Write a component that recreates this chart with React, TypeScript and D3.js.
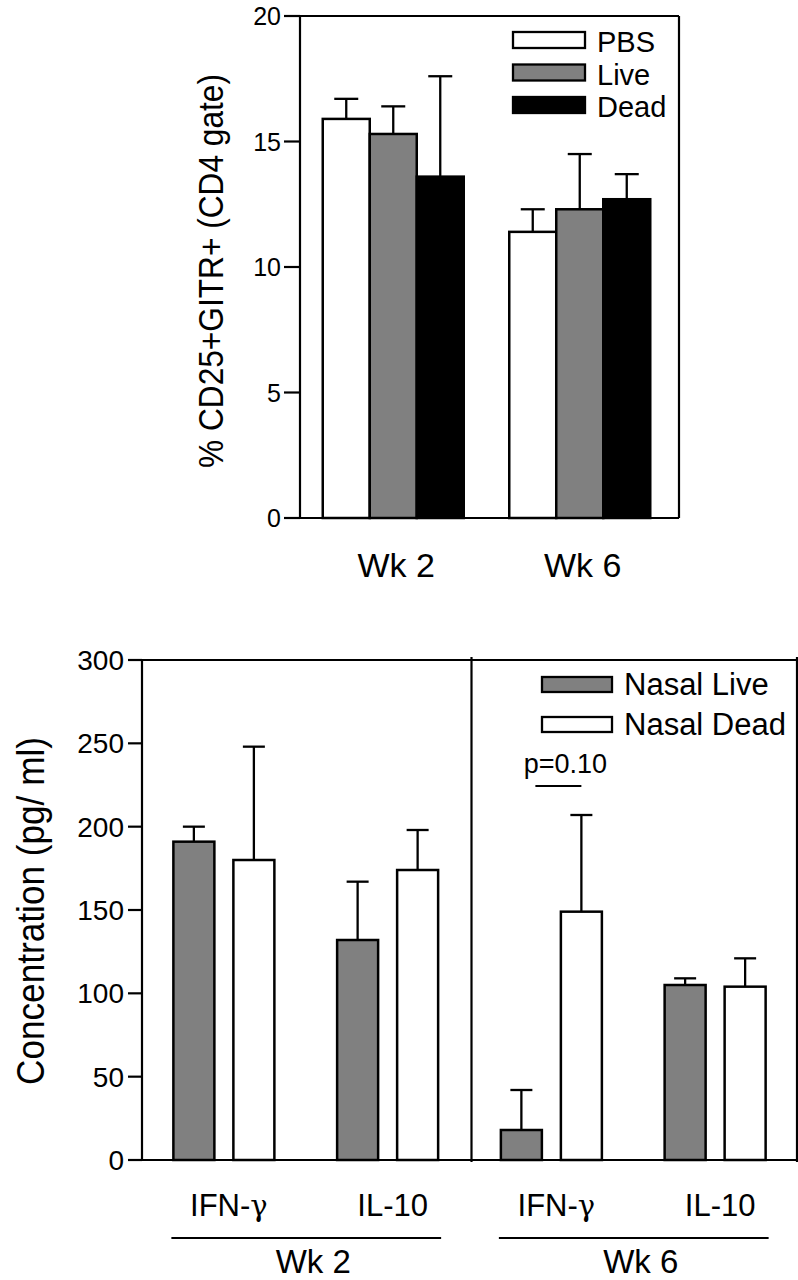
import React from 'react';
import * as d3 from 'd3';

// top panel: % CD25+GITR+ (CD4 gate)
const weeks = ['Wk 2', 'Wk 6'];
const groupsTop = ['PBS', 'Live', 'Dead'];
const topMeans = [
  [15.9, 15.3, 13.6],
  [11.4, 12.3, 12.7],
];
const topErrTops = [
  [16.7, 16.4, 17.6],
  [12.3, 14.5, 13.7],
];
const topTicks = [0, 5, 10, 15, 20];

// bottom panel: cytokines
const cytoCats = ['IFN-γ', 'IL-10', 'IFN-γ ', 'IL-10 '];
const cytoWeek = ['Wk 2', 'Wk 2', 'Wk 6', 'Wk 6'];
const nasalGroups = ['Nasal Live', 'Nasal Dead'];
const liveMeans = [191, 132, 18, 105];
const liveErrTops = [200, 167, 42, 109];
const deadMeans = [180, 174, 149, 104];
const deadErrTops = [248, 198, 207, 121];
const bottomTicks = [0, 50, 100, 150, 200, 250, 300];

const fillTop: Record<string, string> = { PBS: '#fff', Live: '#808080', Dead: '#000' };
const fillBottom: Record<string, string> = { 'Nasal Live': '#808080', 'Nasal Dead': '#fff' };
const FONT = 'Liberation Sans, Arial, Helvetica, sans-serif';

const App = () => {
  // ---- top ----
  const tx0 = 300, tx1 = 679;
  const yTop = d3.scaleLinear().domain([0, 20]).range([518, 16]);
  const xTop = d3.scaleBand().domain(weeks).range([tx0, tx1 - 6]);
  const bwTop = 47;

  // ---- bottom ----
  const bx0 = 142, bx1 = 797;
  const yBot = d3.scaleLinear().domain([0, 300]).range([1160, 660]);
  const xBot = d3.scaleBand().domain(cytoCats).range([bx0, bx1]);
  const bwBot = 41;
  const sub = d3.scalePoint().domain(nasalGroups).range([-30, 30]);
  const botVals = [
    { g: 'Nasal Live', m: liveMeans, e: liveErrTops },
    { g: 'Nasal Dead', m: deadMeans, e: deadErrTops },
  ];
  const bc = (c: string) => (xBot(c) as number) + xBot.bandwidth() / 2;
  const weekGroups = d3.groups(cytoCats.map((c, i) => ({ c, w: cytoWeek[i] })), d => d.w);

  return (
    <svg width={798} height={1280} style={{ position: 'absolute', left: 0, top: 0 }} fontFamily={FONT}>
      <rect width={798} height={1280} fill="#fff" />

      {/* top bars */}
      {weeks.map((w, wi) => {
        const cx = (xTop(w) as number) + xTop.bandwidth() / 2;
        return groupsTop.map((g, gi) => {
          const x = cx + (gi - 1.5) * bwTop;
          const mx = x + bwTop / 2;
          return (
            <g key={w + g}>
              <line x1={mx} x2={mx} y1={yTop(topMeans[wi][gi])} y2={yTop(topErrTops[wi][gi])} stroke="#000" strokeWidth={2.3} />
              <line x1={mx - 12} x2={mx + 12} y1={yTop(topErrTops[wi][gi])} y2={yTop(topErrTops[wi][gi])} stroke="#000" strokeWidth={2.3} />
              <rect x={x} y={yTop(topMeans[wi][gi])} width={bwTop} height={yTop(0) - yTop(topMeans[wi][gi])}
                fill={fillTop[g]} stroke="#000" strokeWidth={2.5} />
            </g>
          );
        });
      })}

      {/* top frame + axis */}
      <g stroke="#000" strokeWidth={2.2} fill="none">
        <line x1={tx0} x2={tx0} y1={yTop(20)} y2={yTop(0)} />
        <line x1={tx0} x2={tx1} y1={yTop(0)} y2={yTop(0)} />
        <line x1={tx0} x2={tx1} y1={yTop(20)} y2={yTop(20)} />
        <line x1={tx1} x2={tx1} y1={yTop(20)} y2={yTop(0)} />
        {topTicks.map(t => <line key={t} x1={tx0 - 16} x2={tx0} y1={yTop(t)} y2={yTop(t)} />)}
      </g>
      {topTicks.map(t => (
        <text key={t} x={tx0 - 19} y={yTop(t)} dy="0.36em" textAnchor="end" fontSize={25}>{t}</text>
      ))}
      {weeks.map(w => (
        <text key={w} x={(xTop(w) as number) + xTop.bandwidth() / 2 + 3} y={577} textAnchor="middle" fontSize={34}>{w}</text>
      ))}
      <text transform="translate(223,271) rotate(-90)" textAnchor="middle" fontSize={35}
        textLength={394} lengthAdjust="spacingAndGlyphs">% CD25+GITR+ (CD4 gate)</text>

      {/* top legend */}
      {groupsTop.map((g, i) => (
        <g key={g} transform={`translate(513,${32 + i * 32.5})`}>
          <rect width={72} height={16} fill={fillTop[g]} stroke="#000" strokeWidth={2.3} />
          <text x={84} y={20} fontSize={29}>{g}</text>
        </g>
      ))}

      {/* bottom bars */}
      {cytoCats.map((c, ci) => botVals.map(s => {
        const mx = bc(c) + (sub(s.g) as number);
        const x = mx - bwBot / 2;
        return (
          <g key={c + s.g}>
            <line x1={mx} x2={mx} y1={yBot(s.m[ci])} y2={yBot(s.e[ci])} stroke="#000" strokeWidth={2.3} />
            <line x1={mx - 11} x2={mx + 11} y1={yBot(s.e[ci])} y2={yBot(s.e[ci])} stroke="#000" strokeWidth={2.3} />
            <rect x={x} y={yBot(s.m[ci])} width={bwBot} height={yBot(0) - yBot(s.m[ci])}
              fill={fillBottom[s.g]} stroke="#000" strokeWidth={2.5} />
          </g>
        );
      }))}

      {/* bottom frame + axis */}
      <g stroke="#000" strokeWidth={2.2} fill="none">
        <line x1={bx0} x2={bx0} y1={yBot(300)} y2={yBot(0)} />
        <line x1={bx0} x2={bx1} y1={yBot(0)} y2={yBot(0)} />
        <line x1={bx0} x2={bx1} y1={yBot(300)} y2={yBot(300)} />
        <line x1={bx1} x2={bx1} y1={yBot(300) - 3} y2={yBot(0) + 2} />
        <line x1={xBot(cytoCats[2]) as number + 2} x2={xBot(cytoCats[2]) as number + 2} y1={yBot(300) - 3} y2={yBot(0) + 2} />
        {bottomTicks.map(t => <line key={t} x1={bx0 - 14} x2={bx0} y1={yBot(t)} y2={yBot(t)} />)}
      </g>
      {bottomTicks.map(t => (
        <text key={t} x={bx0 - 18} y={yBot(t)} dy="0.36em" textAnchor="end" fontSize={28}>{t}</text>
      ))}
      {cytoCats.map(c => {
        const label = c.trim();
        const greek = label.endsWith('γ');
        return (
          <text key={c} x={bc(c) + 5} y={1216} textAnchor="middle" fontSize={31}>
            {greek ? label.slice(0, -1) : label}
            {greek && <tspan fontFamily="DejaVu Serif, Liberation Serif, serif" fontSize={29}>γ</tspan>}
          </text>
        );
      })}
      {weekGroups.map(([w, items]) => {
        const first = items[0].c, last = items[items.length - 1].c;
        const l = bc(first) + (sub('Nasal Live') as number) - bwBot / 2 - 2;
        const r = bc(last) + (sub('Nasal Dead') as number) + bwBot / 2 + 3;
        return (
          <g key={w}>
            <line x1={l} x2={r} y1={1238} y2={1238} stroke="#000" strokeWidth={2.2} />
            <text x={(l + r) / 2 + 7} y={1273} textAnchor="middle" fontSize={33}>{w}</text>
          </g>
        );
      })}
      <text transform="translate(44,911) rotate(-90)" textAnchor="middle" fontSize={38}
        textLength={348} lengthAdjust="spacingAndGlyphs">Concentration (pg/ ml)</text>

      {/* p-value */}
      <line x1={bc(cytoCats[2]) - 16} x2={bc(cytoCats[2]) + 30} y1={786} y2={786} stroke="#000" strokeWidth={2.2} />
      <text x={bc(cytoCats[2]) + 14} y={773} textAnchor="middle" fontSize={27}>p=0.10</text>

      {/* bottom legend */}
      {nasalGroups.map((g, i) => (
        <g key={g} transform={`translate(542,${677 + i * 40})`}>
          <rect width={70} height={15} fill={fillBottom[g]} stroke="#000" strokeWidth={2.3} />
          <text x={82} y={18} fontSize={31}>{g}</text>
        </g>
      ))}
    </svg>
  );
};

export default App;
